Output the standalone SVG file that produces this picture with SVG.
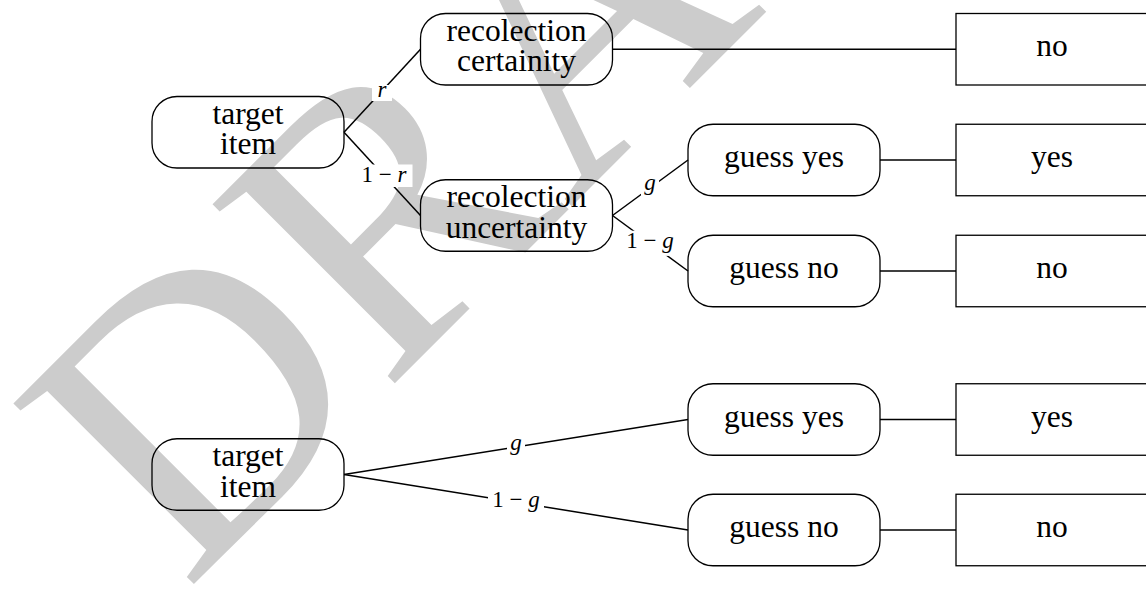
<svg xmlns="http://www.w3.org/2000/svg" width="1146" height="590" viewBox="0 0 1146 590">
<style>
.n{fill:none;stroke:#000;stroke-width:1.3}
.t{font-family:"Liberation Serif","Times New Roman",serif;font-size:31.5px;fill:#000;text-anchor:middle}
.c{stroke:#000;stroke-width:1.5;fill:none}
.lb{fill:#fff;stroke:none}
.m{font-family:"Liberation Serif","Times New Roman",serif;font-size:23px;fill:#000;text-anchor:middle}
.i{font-style:italic}
.wm{font-family:"Liberation Serif","Times New Roman",serif;font-size:390px;fill:#cccccc}
</style>
<rect width="1146" height="590" fill="#fff"/>
<text class="wm" transform="translate(186,592) rotate(-45)">DRAFT</text>
<g id="connectors">
<line class="c" x1="344" y1="132.25" x2="420.5" y2="49.25"/>
<line class="c" x1="344" y1="132.25" x2="420.5" y2="215.5"/>
<line class="c" x1="612.5" y1="49.25" x2="956" y2="49.25"/>
<line class="c" x1="612.5" y1="215.5" x2="688" y2="160"/>
<line class="c" x1="612.5" y1="215.5" x2="688" y2="271"/>
<line class="c" x1="880" y1="160" x2="956" y2="160"/>
<line class="c" x1="880" y1="271" x2="956" y2="271"/>
<line class="c" x1="344" y1="474.5" x2="688" y2="419.5"/>
<line class="c" x1="344" y1="474.5" x2="688" y2="530"/>
<line class="c" x1="880" y1="419.5" x2="956" y2="419.5"/>
<line class="c" x1="880" y1="530" x2="956" y2="530"/>
<rect class="lb" x="372" y="85" width="20" height="16"/>
<text class="m" x="382" y="97"><tspan class="i">r</tspan></text>
<rect class="lb" x="355.5" y="164.5" width="57" height="22.5"/>
<text class="m" x="384" y="182">1 − <tspan class="i">r</tspan></text>
<rect class="lb" x="641" y="177.5" width="18" height="20.5"/>
<text class="m" x="650" y="190"><tspan class="i">g</tspan></text>
<rect class="lb" x="622" y="230.7" width="56" height="25.2"/>
<text class="m" x="650" y="248.3">1 − <tspan class="i">g</tspan></text>
<rect class="lb" x="507" y="436.8" width="18" height="20.5"/>
<text class="m" x="516" y="449.5"><tspan class="i">g</tspan></text>
<rect class="lb" x="488" y="489.6" width="56" height="25.3"/>
<text class="m" x="516" y="507.3">1 − <tspan class="i">g</tspan></text>
</g>
<g id="root1">
<rect class="n" x="152" y="96.5" width="192" height="71.5" rx="25"/>
<text class="t" x="248" y="124">target</text>
<text class="t" x="248" y="154.25">item</text>
</g>
<g id="certainty">
<rect class="n" x="420.5" y="13.5" width="192" height="71.5" rx="25"/>
<text class="t" x="516.5" y="41">recolection</text>
<text class="t" x="516.5" y="71.25">certainity</text>
</g>
<g id="uncertainty">
<rect class="n" x="420.5" y="179.75" width="192" height="71.5" rx="25"/>
<text class="t" x="516.5" y="207.25">recolection</text>
<text class="t" x="516.5" y="237.5">uncertainty</text>
</g>
<g id="guessyes1">
<rect class="n" x="688" y="124.25" width="192" height="71.5" rx="25"/>
<text class="t" x="784" y="167">guess yes</text>
</g>
<g id="guessno1">
<rect class="n" x="688" y="235.25" width="192" height="71.5" rx="25"/>
<text class="t" x="784" y="278">guess no</text>
</g>
<g id="out-no1">
<rect class="n" x="956" y="13.5" width="192" height="71.5"/>
<text class="t" x="1052" y="56">no</text>
</g>
<g id="out-yes1">
<rect class="n" x="956" y="124.25" width="192" height="71.5"/>
<text class="t" x="1052" y="167">yes</text>
</g>
<g id="out-no2">
<rect class="n" x="956" y="235.25" width="192" height="71.5"/>
<text class="t" x="1052" y="278">no</text>
</g>
<g id="root2">
<rect class="n" x="152" y="438.75" width="192" height="71.5" rx="25"/>
<text class="t" x="248" y="466.25">target</text>
<text class="t" x="248" y="496.5">item</text>
</g>
<g id="guessyes2">
<rect class="n" x="688" y="383.75" width="192" height="71.5" rx="25"/>
<text class="t" x="784" y="426.5">guess yes</text>
</g>
<g id="guessno2">
<rect class="n" x="688" y="494.25" width="192" height="71.5" rx="25"/>
<text class="t" x="784" y="537">guess no</text>
</g>
<g id="out-yes2">
<rect class="n" x="956" y="383.75" width="192" height="71.5"/>
<text class="t" x="1052" y="426.5">yes</text>
</g>
<g id="out-no3">
<rect class="n" x="956" y="494.25" width="192" height="71.5"/>
<text class="t" x="1052" y="537">no</text>
</g>
</svg>
